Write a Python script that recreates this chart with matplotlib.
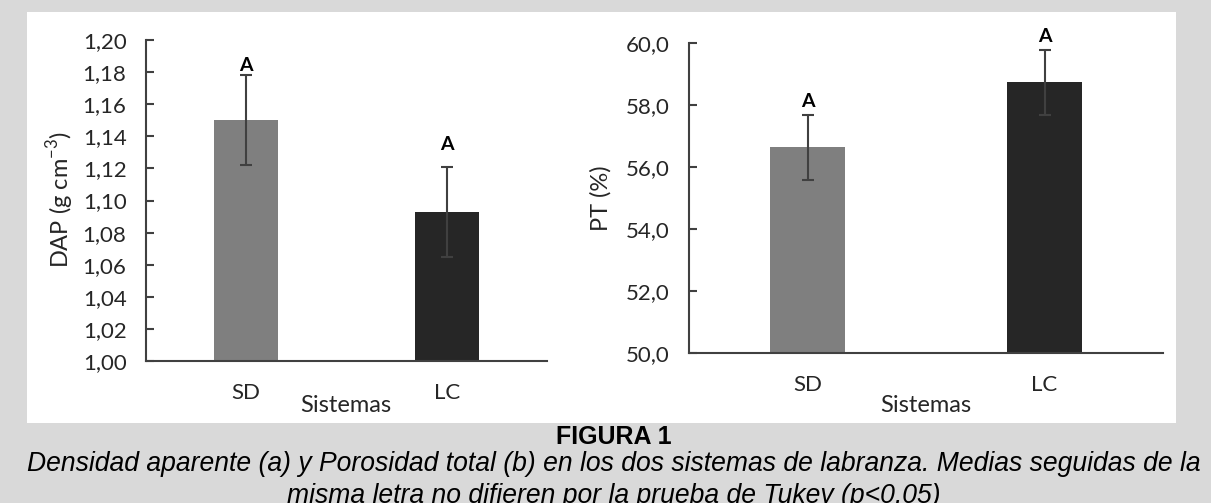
import numpy as np
import matplotlib
matplotlib.use("Agg")
import matplotlib.pyplot as plt
from matplotlib.patches import Rectangle

# data
sistemas = ["SD", "LC"]
dap_mean = [1.150, 1.093]
dap_err = [0.028, 0.028]
pt_mean = [56.63, 58.73]
pt_err = [1.06, 1.06]
letras_dap = ["A", "A"]
letras_pt = ["A", "A"]

bar_colors = ["#7f7f7f", "#262626"]
axis_col = "#404040"
W, H = 1211, 503

plt.rcParams["font.family"] = ["Lato", "DejaVu Sans"]
plt.rcParams["mathtext.fontset"] = "custom"
plt.rcParams["mathtext.rm"] = "Lato"

fig = plt.figure(figsize=(W / 100, H / 100), dpi=100, facecolor="#d9d9d9")

# white panel behind the two charts
fig.patches.append(Rectangle((27 / W, 1 - 423 / H), 1149 / W, 411 / H,
                             transform=fig.transFigure, facecolor="white",
                             edgecolor="none", zorder=-5))


def px_axes(x0, x1, ytop, ybot):
    ax = fig.add_axes([x0 / W, 1 - ybot / H, (x1 - x0) / W, (ybot - ytop) / H])
    ax.set_zorder(2)
    return ax


def draw(ax, means, errs, letras, ylim, step, fmt, offsets):
    x = np.arange(len(means))
    ax.bar(x, means, width=0.32, color=bar_colors, zorder=2)
    ax.errorbar(x, means, yerr=errs, fmt="none", ecolor=axis_col,
                elinewidth=1.5, capsize=4.5, capthick=1.5, zorder=3)
    for i in range(len(means)):
        ax.annotate(letras[i], (x[i], means[i] + errs[i]), xytext=(0, offsets[i]),
                    textcoords="offset points", ha="center", va="bottom",
                    fontsize=14, fontweight="bold", color="black")
    ax.set_xlim(-0.5, len(means) - 0.5)
    ax.set_ylim(*ylim)
    ax.set_yticks(np.arange(ylim[0], ylim[1] + step / 2, step))
    ax.set_yticklabels([fmt.format(v).replace(".", ",") for v in ax.get_yticks()])
    ax.set_xticks(x)
    ax.set_xticklabels(sistemas)
    ax.spines["top"].set_visible(False)
    ax.spines["right"].set_visible(False)
    for s in ["left", "bottom"]:
        ax.spines[s].set_color(axis_col)
        ax.spines[s].set_linewidth(1.5)
    ax.tick_params(axis="y", direction="in", length=5.5, width=1.5, color=axis_col,
                   labelsize=16, labelcolor="#262626", pad=14)
    ax.tick_params(axis="x", length=0, labelsize=16, labelcolor="#262626", pad=16)
    ax.patch.set_visible(False)


ax1 = px_axes(146, 547, 40, 361)
draw(ax1, dap_mean, dap_err, letras_dap, (1.00, 1.20), 0.02, "{:.2f}", [1, 10])
ax2 = px_axes(689, 1163, 43, 353)
draw(ax2, pt_mean, pt_err, letras_pt, (50.0, 60.0), 2.0, "{:.1f}", [3, 3])

# axis titles
fig.text(60 / W, 1 - 200 / H, r"DAP (g cm$^{\mathregular{-3}}$)", rotation=90,
         ha="center", va="center", fontsize=17, color="#262626")
fig.text(601 / W, 1 - 198 / H, "PT (%)", rotation=90,
         ha="center", va="center", fontsize=17, color="#262626")
fig.text(346 / W, 1 - 405 / H, "Sistemas", ha="center", va="center",
         fontsize=17, color="#262626")
fig.text(926 / W, 1 - 405 / H, "Sistemas", ha="center", va="center",
         fontsize=17, color="#262626")

# caption
cap_font = ["Liberation Sans", "DejaVu Sans"]
cx = 614 / W
fig.text(cx, 1 - 444 / H, "FIGURA 1", ha="center", va="baseline", fontsize=18,
         fontweight="bold", family=cap_font)
fig.text(cx, 1 - 471 / H,
         "Densidad aparente (a) y Porosidad total (b) en los dos sistemas de labranza. "
         "Medias seguidas de la",
         ha="center", va="baseline", fontsize=19.1, style="italic", family=cap_font)
fig.text(cx, 1 - 503 / H,
         "misma letra no difieren por la prueba de Tukey (p<0,05)",
         ha="center", va="baseline", fontsize=19.1, style="italic", family=cap_font)

fig.savefig("out.png", dpi=100, facecolor=fig.get_facecolor())
